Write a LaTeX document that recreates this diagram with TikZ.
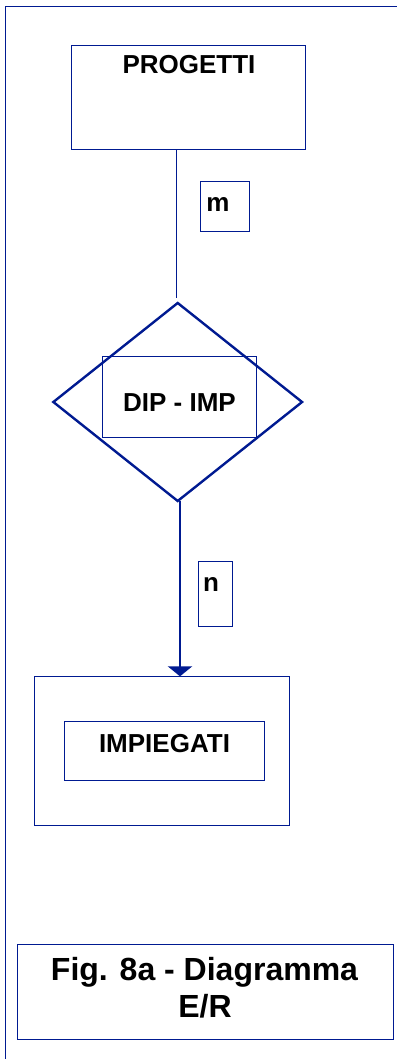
\documentclass[tikz,border=0pt]{standalone}
\usepackage{fontspec}
\setmainfont{Liberation Sans}
\usetikzlibrary{shapes.geometric,arrows.meta}
\definecolor{erblue}{RGB}{0,26,145}
\begin{document}
\begin{tikzpicture}[x=1pt,y=-1pt,
  box/.style={draw=erblue,line width=1pt,rectangle,inner sep=0pt,outer sep=0pt},
  relshape/.style={draw=erblue,line width=2.4pt,diamond,inner sep=0pt,outer sep=0pt,
    minimum width=248.7pt,minimum height=198pt},
  lbl/.style={anchor=base,inner sep=0pt,font=\fontsize{26}{30}\selectfont\bfseries},
  caption/.style={anchor=base,inner sep=0pt,font=\fontsize{32}{37}\selectfont\bfseries},
  thinlink/.style={draw=erblue,line width=1pt},
  thicklink/.style={draw=erblue,line width=2.4pt,-{Triangle[length=10pt,width=24pt]}}]
\useasboundingbox (0,0) rectangle (397,1059);

% page frame
\draw[erblue,line width=1pt] (5.3,1059) -- (5.3,6.7) -- (397,6.7);

% entity PROGETTI
\node[box,minimum width=234pt,minimum height=104.3pt] (progetti) at (188.3,97.3) {};
\node[lbl] (tprogetti) at (189,74) {PROGETTI};

% relationship DIP - IMP
\node[relshape] (rel) at (177.7,402) {};
\node[box,minimum width=154.3pt,minimum height=81.3pt] (relbox) at (179.8,397.3) {};
\node[lbl] (trel) at (179.5,411) {DIP - IMP};

% cardinality m
\node[box,minimum width=49pt,minimum height=49.7pt] (mbox) at (224.5,206.8) {};
\node[lbl] (tm) at (218,212) {m};

% cardinality n
\node[box,minimum width=34.4pt,minimum height=65.3pt] (nbox) at (215.5,594.3) {};
\node[lbl] (tn) at (211,591) {n};

% entity IMPIEGATI
\node[box,minimum width=255.4pt,minimum height=148.7pt] (impiegati) at (162,750.7) {};
\node[box,minimum width=200pt,minimum height=59pt] (impbox) at (164,751.2) {};
\node[lbl] (timp) at (164.5,752) {IMPIEGATI};

% caption
\node[box,minimum width=376pt,minimum height=95pt] (capbox) at (205,991.5) {};
\node[caption] (cap1) at (204.5,980) {Fig. 8a - Diagramma};
\node[caption] (cap2) at (205,1017) {E/R};

% connectors (the upper line stops just short of the diamond)
\draw[thinlink] ([xshift=-11.6pt]progetti.south) -- ([xshift=-1pt,yshift=5pt]rel.north);
\draw[thicklink] ([xshift=2.3pt]rel.south) -- ([xshift=18pt]impiegati.north);
\end{tikzpicture}
\end{document}
